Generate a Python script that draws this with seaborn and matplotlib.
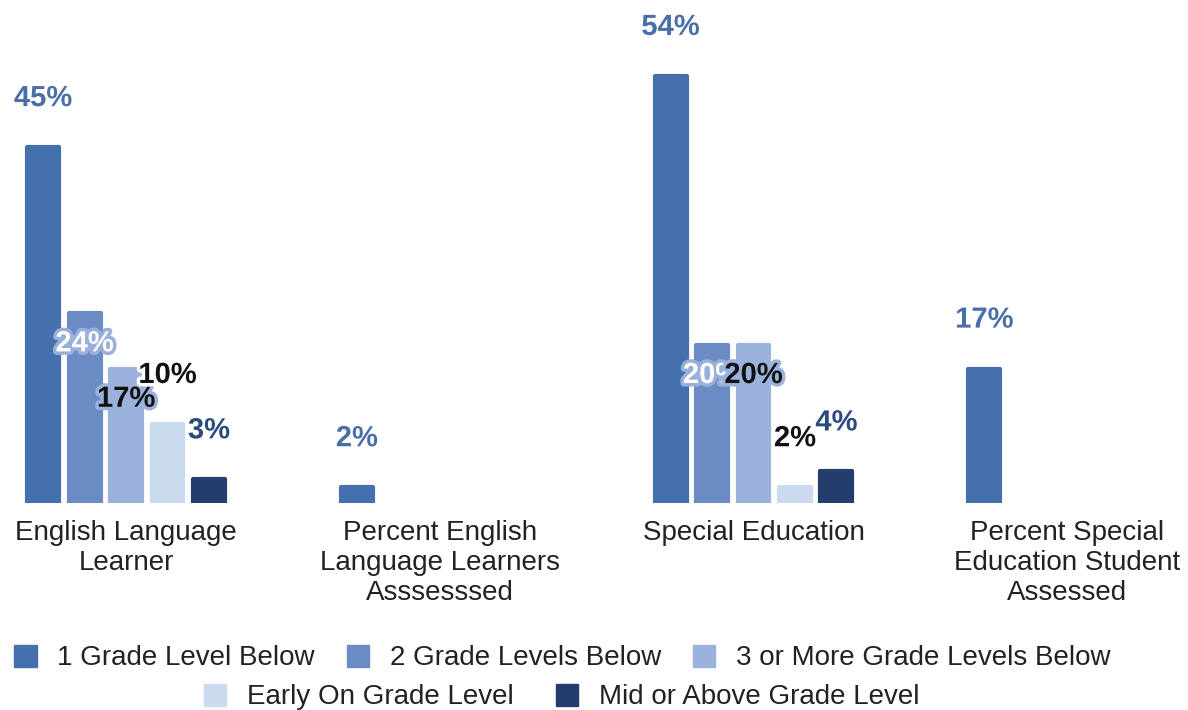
import matplotlib
matplotlib.use("Agg")
import matplotlib.pyplot as plt
import matplotlib.patheffects as pe
from matplotlib.patches import Patch
import pandas as pd
import seaborn as sns

# Groups shown along the x axis
categories = [
    "English Language\nLearner",
    "Percent English\nLanguage Learners\nAsssesssed",
    "Special Education",
    "Percent Special\nEducation Student\nAssessed",
]

# Series (grade-level bands)
series = [
    "1 Grade Level Below",
    "2 Grade Levels Below",
    "3 or More Grade Levels Below",
    "Early On Grade Level",
    "Mid or Above Grade Level",
]

# Percent values per series (None = not reported for that group)
one_below = [45, 2, 54, 17]
two_below = [24, None, 20, None]
three_below = [17, None, 20, None]
early_on = [10, None, 2, None]
mid_above = [3, None, 4, None]

colors = ["#4470ad", "#6a8bc3", "#9bb2dc", "#cbdbef", "#243d6c"]

rows = []
for name, vals in zip(series, [one_below, two_below, three_below, early_on, mid_above]):
    for cat, v in zip(categories, vals):
        if v is not None:
            rows.append({"group": cat, "band": name, "pct": v})
df = pd.DataFrame(rows)

sns.set_theme(style="white")
plt.rcParams["font.family"] = ["Liberation Sans", "DejaVu Sans"]

fig = plt.figure(figsize=(11.88, 7.10), dpi=100)
ax = fig.add_axes([0.0, 0.2915, 1.0, 0.7085])

sns.barplot(
    data=df, x="group", y="pct", hue="band",
    order=categories, hue_order=series, palette=colors, saturation=1,
    width=0.661, gap=0.23, dodge=True, legend=False, ax=ax,
    linewidth=3, joinstyle="round", errorbar=None,
)
for cont, col in zip(ax.containers, colors):
    for bar in cont:
        bar.set_edgecolor(col)

ax.set_xlim(-0.4017, 3.385)
ax.set_ylim(0, 63.6)
ax.set_xlabel("")
ax.set_ylabel("")
ax.set_yticks([])
sns.despine(ax=ax, left=True, bottom=True)
ax.tick_params(axis="x", length=0, pad=12, labelsize=20, labelcolor="#222222")
for lab in ax.get_xticklabels():
    lab.set_linespacing(1.2)

# Value labels: text colour, halo colour, placement (above / inside the bar top)
label_style = [
    ("#4a6fa8", "white", 29.5),
    ("white", "#9ab0da", -27.5),
    ("#111111", "#9bb2dc", -27.5),
    ("#111111", "white", 29.5),
    ("#2c4a7c", "white", 29.5),
]
for cont, (tcol, halo, dy) in zip(ax.containers, label_style):
    for bar in cont:
        h = bar.get_height()
        if h != h:
            continue
        ax.annotate(
            f"{h:.0f}%",
            xy=(bar.get_x() + bar.get_width() / 2, h),
            xytext=(0, dy), textcoords="offset points",
            ha="center", va="baseline", fontsize=21, fontweight="bold",
            color=tcol, zorder=5,
            path_effects=[pe.withStroke(linewidth=5, foreground=halo)],
        )

handles = [Patch(facecolor=c, edgecolor=c, linewidth=1, joinstyle="round") for c in colors]
leg1 = fig.legend(
    handles[:3], series[:3], loc="center", bbox_to_anchor=(0.4735, 0.0732),
    ncol=3, frameon=False, fontsize=20, handlelength=0.8, handleheight=0.85,
    handletextpad=0.75, columnspacing=1.15, borderpad=0, labelcolor="#222222",
)
leg2 = fig.legend(
    handles[3:], series[3:], loc="center", bbox_to_anchor=(0.4727, 0.0183),
    ncol=2, frameon=False, fontsize=20, handlelength=0.8, handleheight=0.85,
    handletextpad=0.75, columnspacing=1.5, borderpad=0, labelcolor="#222222",
)

fig.savefig("out.png", dpi=100)
